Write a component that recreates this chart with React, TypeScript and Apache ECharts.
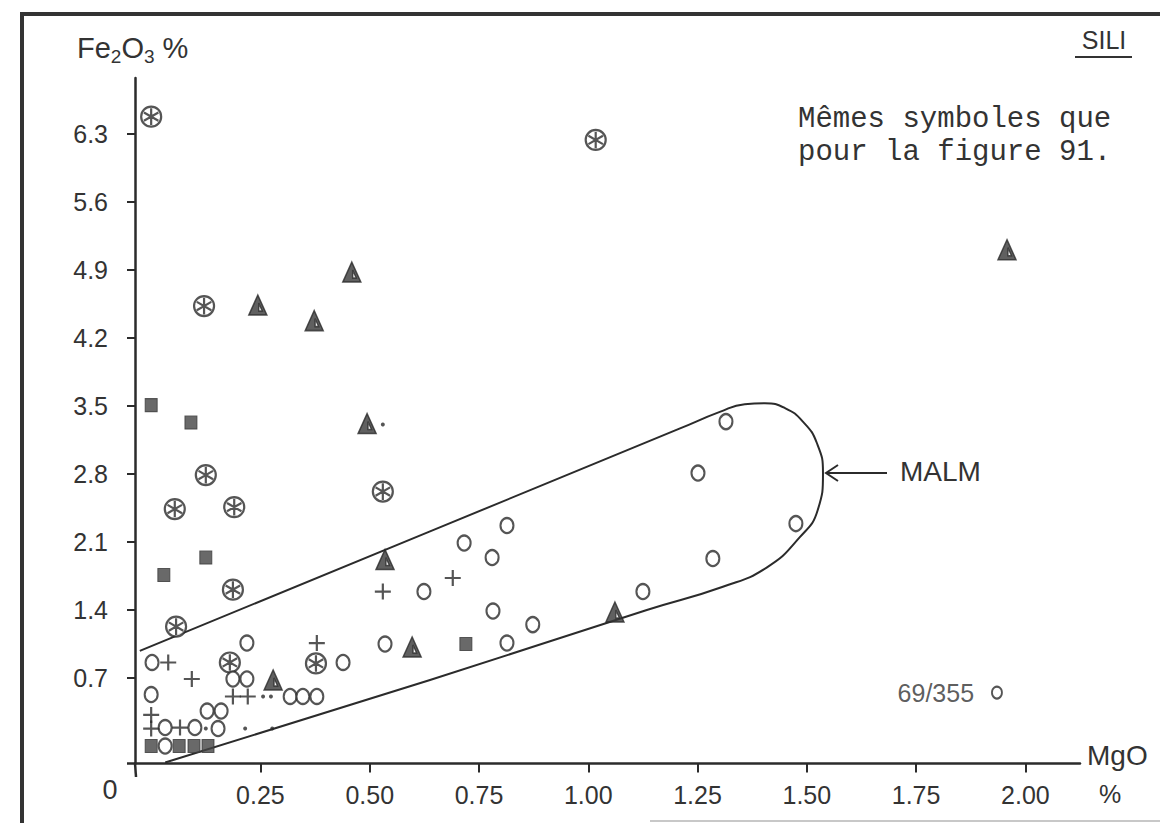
import React, { useEffect, useRef } from "react";
import * as echarts from "echarts";

// ---- Data (MgO %, Fe2O3 %) ----
const xTicks = [0.25, 0.5, 0.75, 1.0, 1.25, 1.5, 1.75, 2.0];
const yTicks = [0.7, 1.4, 2.1, 2.8, 3.5, 4.2, 4.9, 5.6, 6.3];

const circledStar = [
  [0.0, 6.48], [1.017, 6.24], [0.121, 4.53], [0.125, 2.79], [0.054, 2.44],
  [0.19, 2.46], [0.53, 2.62], [0.187, 1.61], [0.057, 1.23], [0.18, 0.86], [0.377, 0.85],
];
const triangles = [
  [1.958, 5.11], [0.244, 4.54], [0.373, 4.38], [0.459, 4.88], [0.494, 3.32],
  [0.535, 1.92], [0.597, 1.02], [0.279, 0.68], [1.061, 1.38],
];
const squares = [
  [0.0, 3.51], [0.091, 3.33], [0.125, 1.94], [0.029, 1.76], [0.72, 1.05],
  [0.0, 0.0], [0.064, 0.0], [0.098, 0.0], [0.13, 0.0],
];
const circles = [
  [1.315, 3.34], [1.251, 2.81], [1.475, 2.29], [1.285, 1.93], [1.125, 1.59],
  [0.716, 2.09], [0.814, 2.27], [0.78, 1.94], [0.624, 1.59], [0.782, 1.39],
  [0.873, 1.25], [0.814, 1.06], [0.535, 1.05], [0.219, 1.06], [0.439, 0.86],
  [0.002, 0.86], [0.187, 0.69], [0.219, 0.69], [0.0, 0.53], [0.318, 0.51],
  [0.347, 0.51], [0.379, 0.51], [0.128, 0.36], [0.16, 0.36], [0.032, 0.19],
  [0.1, 0.19], [0.153, 0.18], [0.032, 0.0],
];
const labeledPoint = [[1.935, 0.55]];
const labeledPointName = "69/355";
const plusses = [
  [0.039, 0.86], [0.379, 1.06], [0.093, 0.69], [0.187, 0.51], [0.221, 0.51],
  [0.0, 0.32], [0.0, 0.18], [0.066, 0.19], [0.53, 1.59], [0.69, 1.73],
];
const dots = [
  [0.256, 0.51], [0.274, 0.51], [0.125, 0.18], [0.215, 0.18], [0.277, 0.18], [0.53, 3.31],
];
// MALM envelope (open curve)
const malmEnvelope = [
  [-0.026, 0.98], [0.638, 2.21], [1.21, 3.27], [1.301, 3.44], [1.358, 3.52],
  [1.404, 3.53], [1.45, 3.48], [1.491, 3.34], [1.523, 3.12], [1.537, 2.81],
  [1.525, 2.43], [1.484, 2.15], [1.409, 1.84], [1.308, 1.64], [1.134, 1.4],
  [0.638, 0.68], [0.032, -0.17],
];

const INK = "#2b2b2b";
const HAND = "'Liberation Sans', Arial, sans-serif";
const TYPE = "'Liberation Mono', 'Courier New', monospace";

const circledStarPath =
  "path://M1,10A9,9 0 1,1 19,10A9,9 0 1,1 1,10Z M10,2.5L10,17.5 M3.5,6.25L16.5,13.75 M3.5,13.75L16.5,6.25";
const halfTrianglePath = "path://M10,0L20,20L0,20Z M11,8L11,16L15,16Z";
const plusPath = "path://M8,0L8,16M0,8L16,8";

export default function App() {
  const ref = useRef<HTMLDivElement>(null);
  useEffect(() => {
    const chart = echarts.init(ref.current!, null, { renderer: "svg" });
    const option: any = {
      animation: false,
      backgroundColor: "#ffffff",
      grid: { left: 135, right: 80, top: 78, bottom: 59.5, containLabel: false, outerBoundsMode: "none" },
      xAxis: {
        type: "value",
        min: -0.037,
        max: 2.125,
        splitLine: { show: false },
        axisLine: { onZero: false, lineStyle: { color: INK, width: 2.5 } },
        axisTick: { customValues: xTicks, length: 9, lineStyle: { color: INK, width: 2 } },
        axisLabel: {
          customValues: xTicks,
          formatter: (v: number) => v.toFixed(2),
          margin: 19,
          color: "#333",
          fontSize: 25,
          fontFamily: HAND,
        },
      },
      yAxis: {
        type: "value",
        min: -0.18,
        max: 6.878,
        splitLine: { show: false },
        axisLine: { onZero: false, lineStyle: { color: INK, width: 2.5 } },
        axisTick: { customValues: yTicks, length: 8, lineStyle: { color: INK, width: 2 } },
        axisLabel: {
          customValues: yTicks,
          formatter: (v: number) => v.toFixed(1),
          margin: 27,
          color: "#333",
          fontSize: 25,
          fontFamily: HAND,
        },
      },
      series: [
        {
          name: "MALM",
          type: "line",
          data: malmEnvelope,
          smooth: 0.5,
          showSymbol: false,
          symbol: "none",
          z: 1,
          lineStyle: { color: INK, width: 2 },
        },
        {
          type: "scatter",
          data: circledStar,
          symbol: circledStarPath,
          symbolSize: 20,
          z: 3,
          itemStyle: { color: "#fff", borderColor: INK, borderWidth: 2.2 },
        },
        {
          type: "scatter",
          data: triangles,
          symbol: halfTrianglePath,
          symbolSize: [18, 20],
          z: 3,
          itemStyle: { color: "#383838", borderColor: INK, borderWidth: 1.5 },
        },
        {
          type: "scatter",
          data: squares,
          symbol: "rect",
          symbolSize: [12, 13],
          z: 3,
          itemStyle: { color: "#444", borderColor: "#3a3a3a", borderWidth: 1 },
        },
        {
          type: "scatter",
          data: circles,
          symbol: "circle",
          symbolSize: [13, 15],
          z: 3,
          itemStyle: { color: "#fff", borderColor: INK, borderWidth: 2.2 },
        },
        {
          type: "scatter",
          data: labeledPoint,
          symbol: "circle",
          symbolSize: [10, 12],
          z: 3,
          itemStyle: { color: "#fff", borderColor: INK, borderWidth: 2 },
          label: {
            show: true,
            position: "left",
            distance: 17,
            formatter: () => labeledPointName,
            color: "#333",
            fontSize: 25,
            fontFamily: HAND,
          },
        },
        {
          type: "scatter",
          data: plusses,
          symbol: plusPath,
          symbolSize: 16,
          z: 3,
          itemStyle: { color: "transparent", borderColor: INK, borderWidth: 2.2 },
        },
        {
          type: "scatter",
          data: dots,
          symbol: "circle",
          symbolSize: 4,
          z: 3,
          itemStyle: { color: INK },
        },
      ],
      graphic: [
        // frame
        { type: "line", shape: { x1: 22, y1: 14, x2: 1160, y2: 14 }, style: { stroke: "#333", lineWidth: 4 } },
        { type: "line", shape: { x1: 22, y1: 12, x2: 22, y2: 823 }, style: { stroke: "#333", lineWidth: 4 } },
        { type: "line", shape: { x1: 650, y1: 821, x2: 1160, y2: 821 }, style: { stroke: "#c8c8c8", lineWidth: 2 } },
        // axis overshoots
        { type: "line", shape: { x1: 127, y1: 763.5, x2: 136, y2: 763.5 }, style: { stroke: INK, lineWidth: 2.5 } },
        { type: "line", shape: { x1: 135, y1: 763, x2: 136, y2: 777 }, style: { stroke: INK, lineWidth: 2.5 } },
        // Fe2O3 %
        {
          type: "text",
          x: 77,
          y: 48,
          style: {
            text: "{a|Fe}{b|2}{a|O}{b|3}{a| %}",
            verticalAlign: "middle",
            fill: "#333",
            rich: {
              a: { fontSize: 29, fontFamily: HAND, fill: "#333" },
              b: { fontSize: 19, fontFamily: HAND, fill: "#333", padding: [16, 0, 0, 0] },
            },
          },
        },
        // SILI
        {
          type: "text",
          x: 1104,
          y: 40,
          style: { text: "SILI", font: `25px ${HAND}`, fill: "#333", align: "center", verticalAlign: "middle" },
        },
        { type: "line", shape: { x1: 1075, y1: 57, x2: 1132, y2: 57 }, style: { stroke: "#333", lineWidth: 2 } },
        // typed note
        {
          type: "text",
          x: 798,
          y: 119,
          style: { text: "Mêmes symboles que", font: `29px ${TYPE}`, fill: "#333", verticalAlign: "middle" },
        },
        {
          type: "text",
          x: 798,
          y: 152,
          style: { text: "pour la figure 91.", font: `29px ${TYPE}`, fill: "#333", verticalAlign: "middle" },
        },
        // MALM arrow + label
        { type: "line", shape: { x1: 826, y1: 473, x2: 887, y2: 473 }, style: { stroke: INK, lineWidth: 2 } },
        {
          type: "polyline",
          shape: { points: [[838, 465], [826, 473], [838, 481]] },
          style: { stroke: INK, lineWidth: 2, fill: "none" },
        },
        {
          type: "text",
          x: 900,
          y: 471,
          style: { text: "MALM", font: `28px ${HAND}`, fill: "#333", verticalAlign: "middle" },
        },
        // axis names / origin
        {
          type: "text",
          x: 1087,
          y: 755,
          style: { text: "MgO", font: `28px ${HAND}`, fill: "#333", verticalAlign: "middle" },
        },
        {
          type: "text",
          x: 1110,
          y: 794,
          style: { text: "%", font: `25px ${HAND}`, fill: "#333", align: "center", verticalAlign: "middle" },
        },
        {
          type: "text",
          x: 110,
          y: 790,
          style: { text: "0", font: `27px ${HAND}`, fill: "#333", align: "center", verticalAlign: "middle" },
        },
      ],
    };
    chart.setOption(option);
    return () => chart.dispose();
  }, []);
  return (
    <div
      ref={ref}
      style={{ position: "fixed", left: 0, top: 0, width: 1160, height: 823, background: "#fff" }}
    />
  );
}
